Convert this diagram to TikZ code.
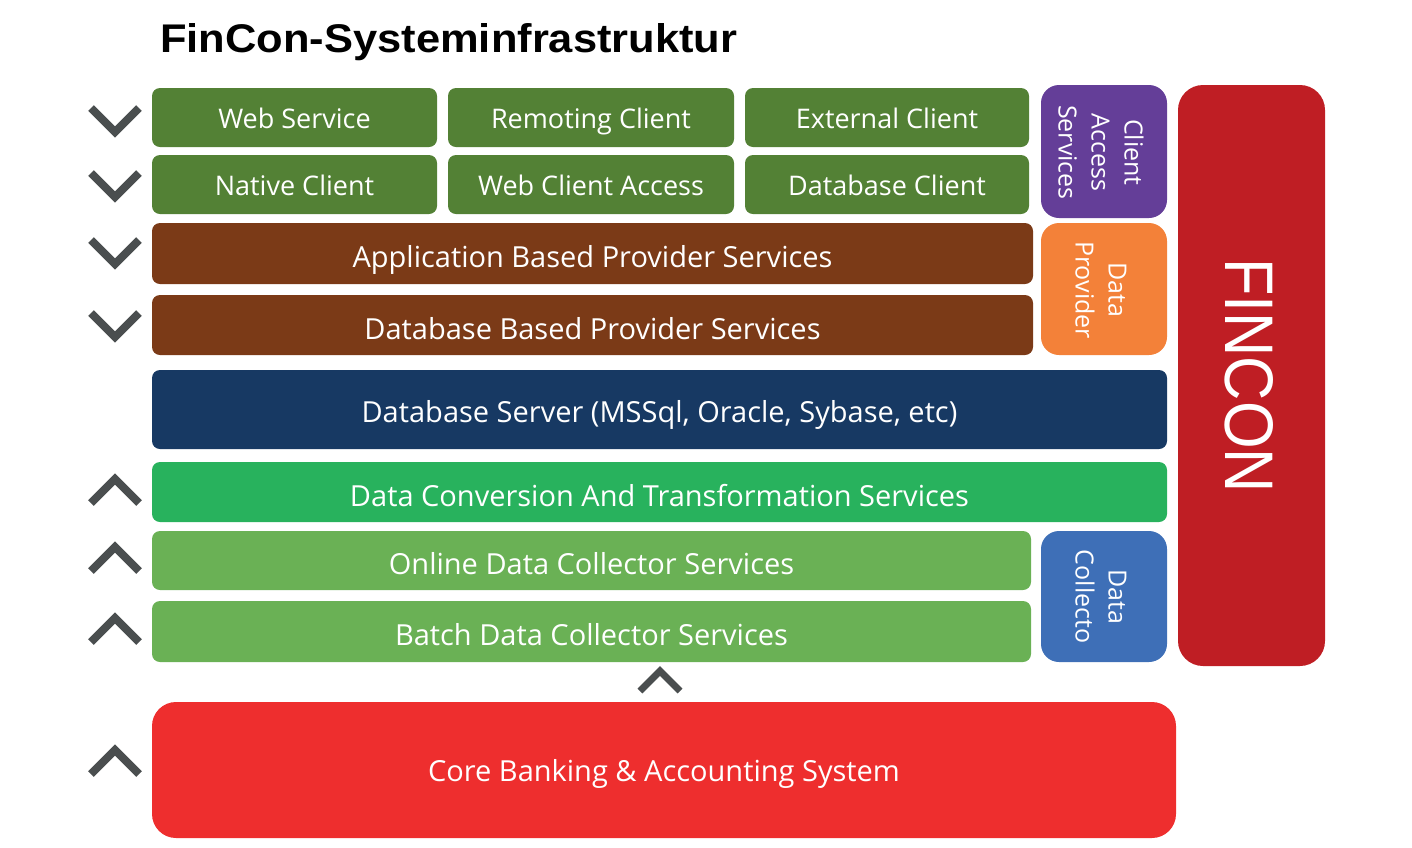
\documentclass[tikz,border=0pt]{standalone}
\usepackage{fontspec}
\setmainfont{Open Sans}
\newfontfamily\titlefont{Liberation Sans}
\definecolor{cdgreen}{HTML}{538135}
\definecolor{cbrown}{HTML}{7B3A17}
\definecolor{cnavy}{HTML}{173963}
\definecolor{cbgreen}{HTML}{28B25D}
\definecolor{clgreen}{HTML}{6AB155}
\definecolor{cpurple}{HTML}{643E98}
\definecolor{corange}{HTML}{F38139}
\definecolor{cblue}{HTML}{3E6FB7}
\definecolor{cfincon}{HTML}{BF1E24}
\definecolor{ccore}{HTML}{EE2E2E}
\definecolor{cchev}{HTML}{4A4E4F}
\begin{document}
\begin{tikzpicture}[x=1pt,y=-1pt,
  box/.style={rectangle, rounded corners=8pt, inner sep=0pt, text=white, align=center},
  toprow/.style={box, font=\fontsize{27}{30}\selectfont, text height=21pt, text depth=0pt},
  layer/.style={box, font=\fontsize{29}{32}\selectfont, text height=28pt, text depth=0pt},
  side/.style={rectangle, rounded corners=18pt, inner sep=0pt},
  sidetext/.style={text=white, font=\fontsize{25}{33}\selectfont, align=center, rotate=-90},
  chev/.style={draw=cchev, line width=8pt, line join=miter, line cap=butt}]
\useasboundingbox (0,0) rectangle (1412,847);
\node[anchor=base west, inner sep=0pt] (title) at (160,52)
  {\resizebox{577pt}{29pt}{\titlefont\bfseries FinCon-Systeminfrastruktur}};
% client rows
\node[toprow, fill=cdgreen, minimum width=285pt, minimum height=59pt] (ws) at (294.5,117.5) {Web Service};
\node[toprow, fill=cdgreen, minimum width=286pt, minimum height=59pt] (rc) at (591,117.5) {Remoting Client};
\node[toprow, fill=cdgreen, minimum width=284pt, minimum height=59pt] (ec) at (887,117.5) {External Client};
\node[toprow, fill=cdgreen, minimum width=285pt, minimum height=59pt] (nc) at (294.5,184.5) {Native Client};
\node[toprow, fill=cdgreen, minimum width=286pt, minimum height=59pt] (wca) at (591,184.5) {Web Client Access};
\node[toprow, fill=cdgreen, minimum width=284pt, minimum height=59pt] (dbc) at (887,184.5) {Database Client};
\node[side, fill=cpurple, minimum width=126pt, minimum height=133pt] (cas) at (1104,151.5) {};
\node[sidetext] (castxt) at (1101,152.5) {Client\\Access\\Services};
% provider
\node[layer, fill=cbrown, minimum width=881pt, minimum height=61pt] (apbs) at (592.5,253.5) {Application Based Provider Services};
\node[layer, fill=cbrown, minimum width=881pt, minimum height=60pt] (dbps) at (592.5,325) {Database Based Provider Services};
\node[side, fill=corange, minimum width=126pt, minimum height=132pt] (dp) at (1104,289) {};
\node[sidetext] (dptxt) at (1101,290) {Data\\Provider};
% database server
\node[layer, fill=cnavy, minimum width=1015pt, minimum height=79pt, text height=26.7pt] (dbs) at (659.5,409.5) {Database Server (MSSql, Oracle, Sybase, etc)};
% collectors
\node[layer, fill=cbgreen, minimum width=1015pt, minimum height=60pt] (dcts) at (659.5,492) {Data Conversion And Transformation Services};
\node[layer, fill=clgreen, minimum width=879pt, minimum height=59pt] (odcs) at (591.5,560.5) {Online Data Collector Services};
\node[layer, fill=clgreen, minimum width=879pt, minimum height=61pt] (bdcs) at (591.5,631.5) {Batch Data Collector Services};
\node[side, fill=cblue, minimum width=126pt, minimum height=131pt] (dc) at (1104,596.5) {};
\node[sidetext] (dctxt) at (1101,596.5) {Data\\Collecto};
% fincon
\node[rectangle, rounded corners=25pt, fill=cfincon, minimum width=147pt, minimum height=581pt, inner sep=0pt] (fincon) at (1251.5,375.5) {};
\node[text=white, rotate=-90, inner sep=0pt] (fincontxt) at (1249,375.5) {\resizebox{235pt}{48pt}{\titlefont FINCON}};
% core
\node[layer, rounded corners=24pt, fill=ccore, minimum width=1024pt, minimum height=136pt, text height=23pt] (core) at (664,770) {Core Banking \& Accounting System};
% chevrons
\draw[chev] (91,108) -- (115,132) -- (139,108);
\draw[chev] (91,173) -- (115,197) -- (139,173);
\draw[chev] (91,240) -- (115,264) -- (139,240);
\draw[chev] (91,313) -- (115,337) -- (139,313);
\draw[chev] (91,503) -- (115,479) -- (139,503);
\draw[chev] (91,571) -- (115,547) -- (139,571);
\draw[chev] (91,642) -- (115,618) -- (139,642);
\draw[chev] (91,774) -- (115,750) -- (139,774);
\draw[chev, line width=7pt] (640,691) -- (660,671) -- (680,691);
\end{tikzpicture}
\end{document}
